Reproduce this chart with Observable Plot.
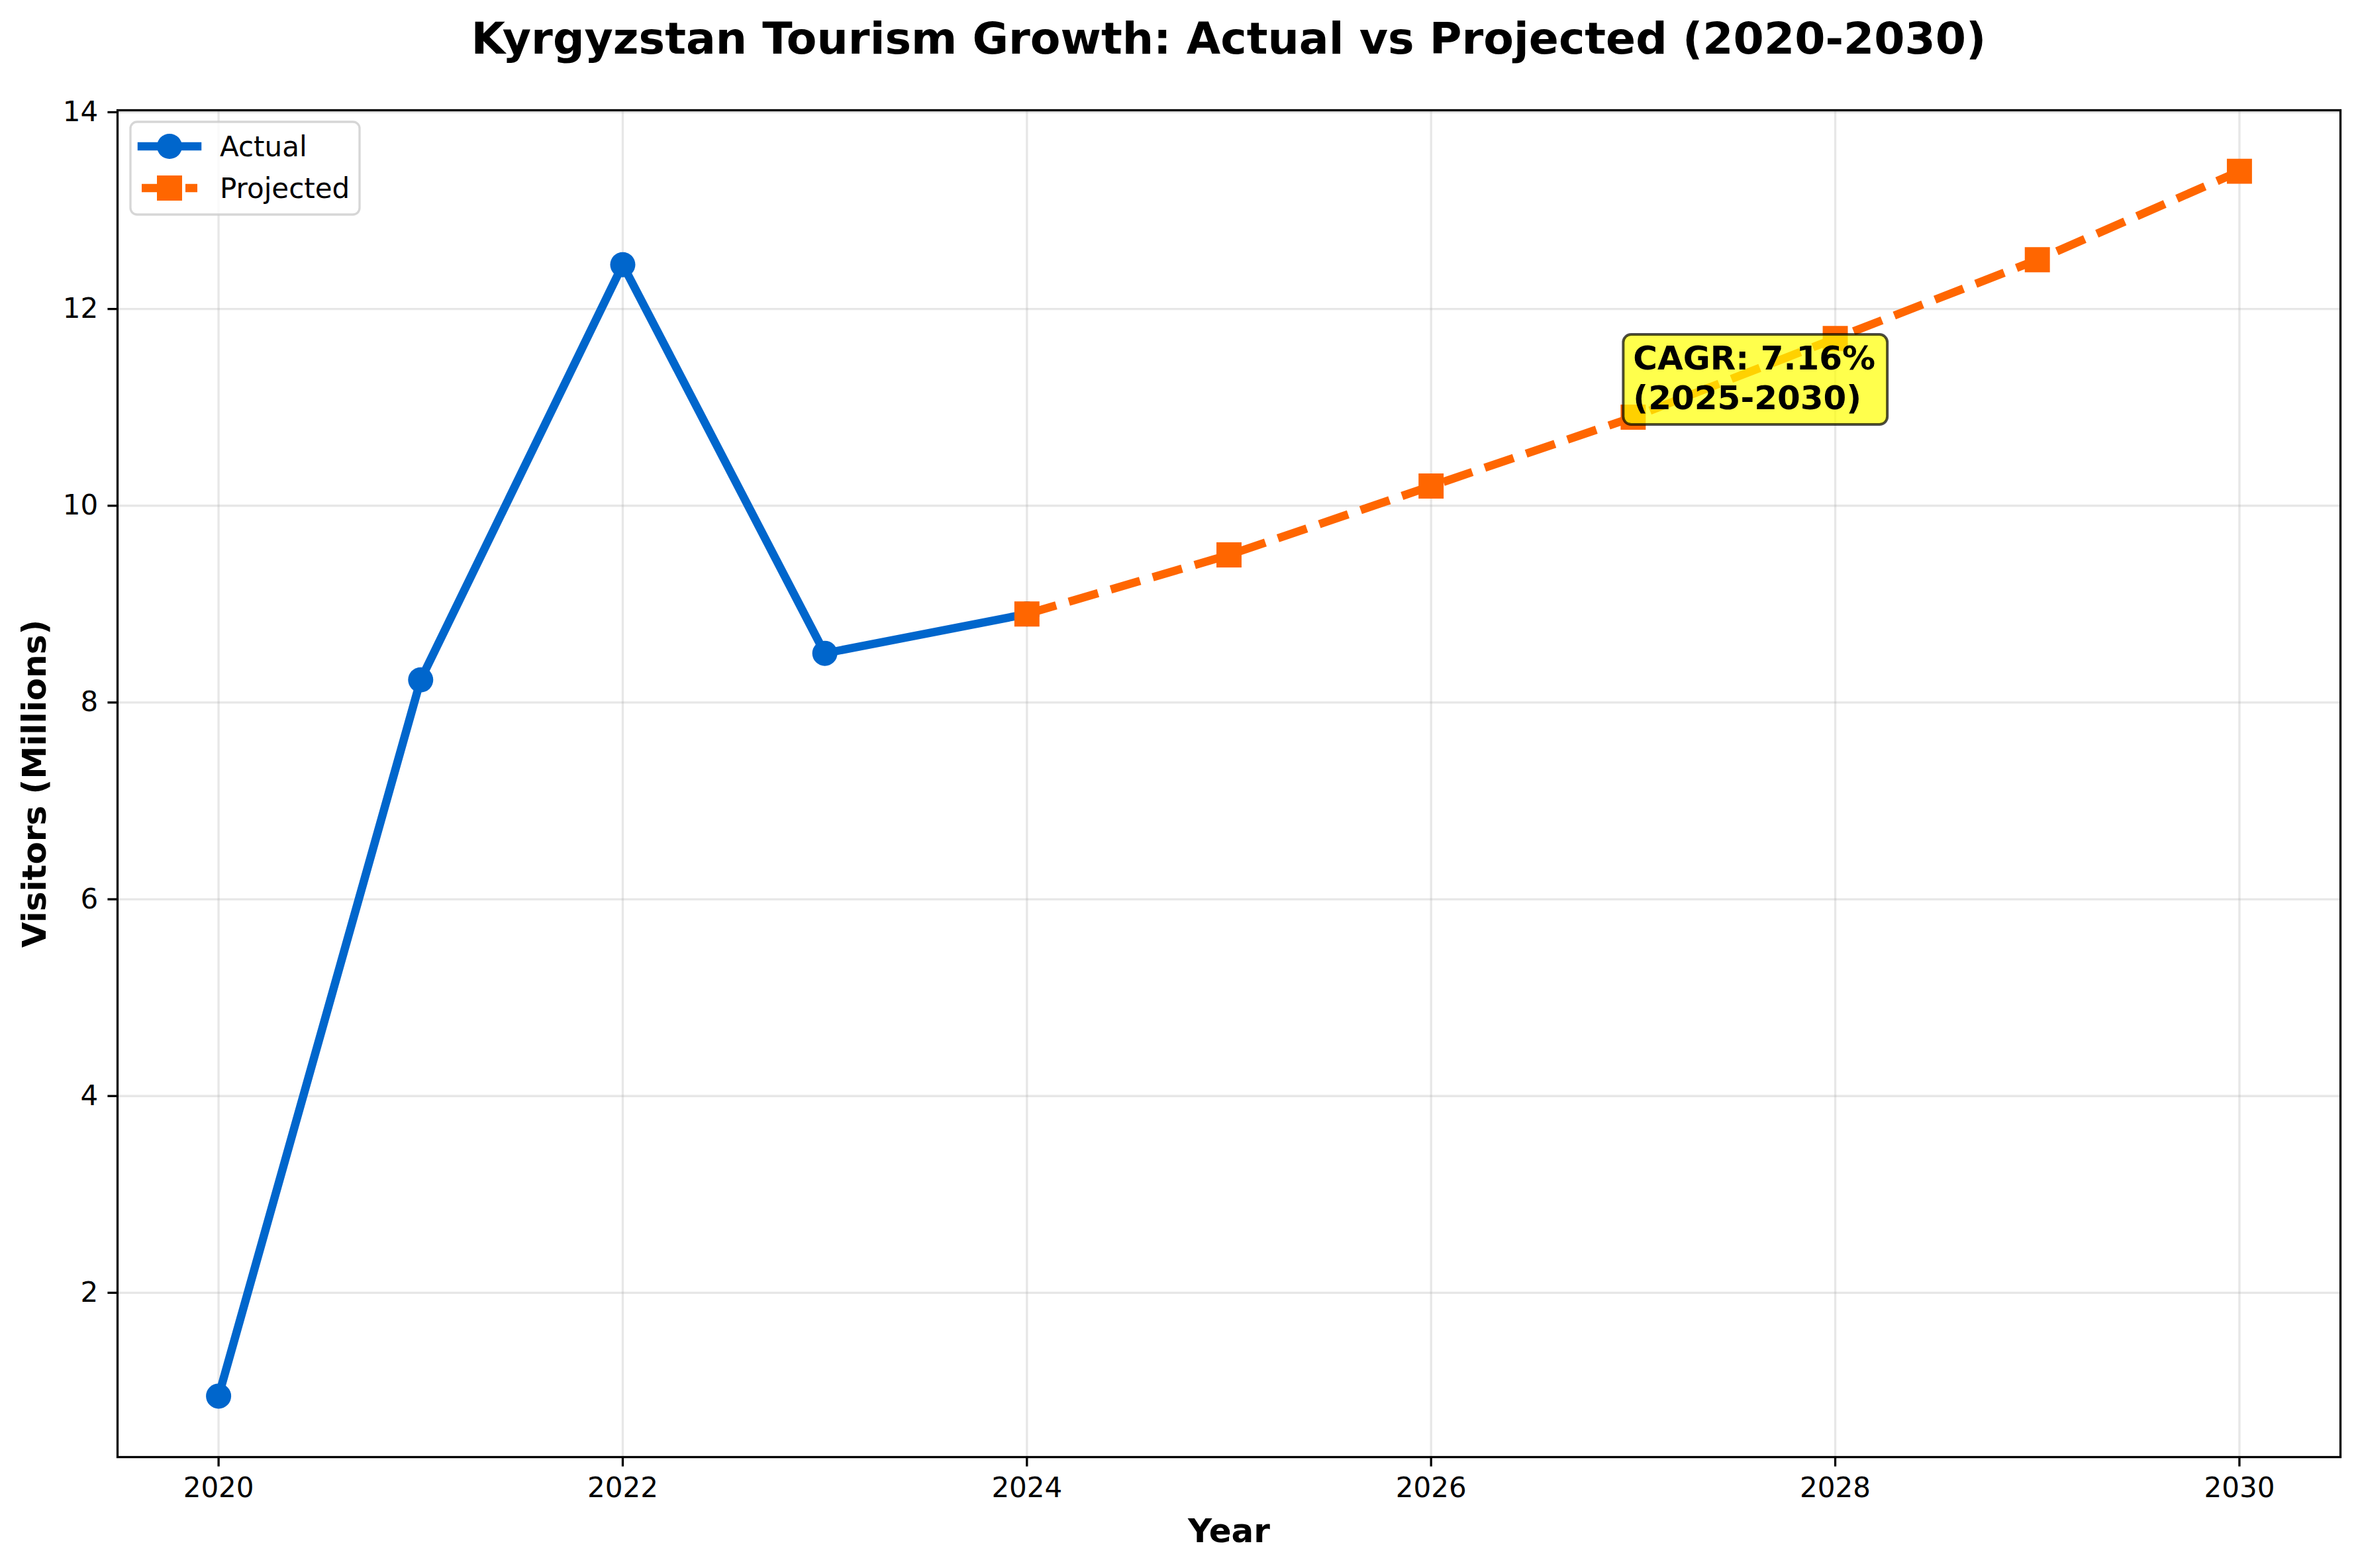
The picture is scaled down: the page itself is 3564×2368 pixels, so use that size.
<!DOCTYPE html>
<html>
<head>
<meta charset="utf-8">
<script src="https://cdn.jsdelivr.net/npm/d3@7"></script>
<script src="https://cdn.jsdelivr.net/npm/@observablehq/plot@0.6"></script>
<style>
  html, body { margin: 0; padding: 0; background: #fff; }
  body { width: 3564px; height: 2368px; overflow: hidden; font-family: "DejaVu Sans", sans-serif; }
  #title {
    position: relative; left: 177px; width: 3357px; height: 120px; box-sizing: border-box;
    padding-top: 25px; text-align: center; font-size: 66.5px; line-height: 67px;
    font-weight: bold; color: #000; white-space: nowrap;
  }
  #chart svg { display: block; }
</style>
</head>
<body>
<div id="title">Kyrgyzstan Tourism Growth: Actual vs Projected (2020-2030)</div>
<div id="chart"></div>
<script>
// Visitors (millions) by year
const actualYears = [2020, 2021, 2022, 2023, 2024];
const actualVisitors = [0.95, 8.23, 12.45, 8.5, 8.9];
const projectedYears = [2024, 2025, 2026, 2027, 2028, 2029, 2030];
const projectedVisitors = [8.9, 9.5, 10.2, 10.9, 11.7, 12.5, 13.4];

// Axis ticks
const xTicks = [2020, 2022, 2024, 2026, 2028, 2030];
const yTicks = [2, 4, 6, 8, 10, 12, 14];

// Growth-rate note, anchored at a point on the projection
const noteYear = [2027];
const noteVisitors = [10.9];
const noteText = ["CAGR: 7.16%\n(2025-2030)"];

const seriesNames = ["Actual", "Projected"];
const BLUE = "#0066CC";
const ORANGE = "#FF6600";

const actual = actualYears.map((year, i) => ({year, visitors: actualVisitors[i]}));
const projected = projectedYears.map((year, i) => ({year, visitors: projectedVisitors[i]}));
const notes = noteYear.map((year, i) => ({year, visitors: noteVisitors[i], text: noteText[i]}));

const TITLE_H = 120;
const gridStyle = {stroke: "#b0b0b0", strokeOpacity: 0.3, strokeWidth: 3.3};

const chart = Plot.plot({
  width: 3564,
  height: 2368 - TITLE_H,
  marginLeft: 177,
  marginRight: 30,
  marginTop: 166 - TITLE_H,
  marginBottom: 168,
  style: {fontFamily: "DejaVu Sans", fontSize: "42px", color: "#000", background: "#fff", overflow: "visible"},
  x: {domain: [2019.5, 2030.5]},
  y: {domain: [0.33, 14.02]},
  marks: [
    Plot.gridX(xTicks, gridStyle),
    Plot.gridY(yTicks, gridStyle),
    Plot.axisX(xTicks, {tickSize: 14.6, tickPadding: 16, strokeWidth: 3.3, tickFormat: (d) => String(d), label: null, fontSize: 42}),
    Plot.axisY(yTicks, {tickSize: 14.6, tickPadding: 14.6, strokeWidth: 3.3, tickFormat: (d) => String(d), label: null, fontSize: 42}),
    Plot.line(actual, {x: "year", y: "visitors", stroke: BLUE, strokeWidth: 12.5, strokeLinejoin: "round", strokeLinecap: "square"}),
    Plot.dot(actual, {x: "year", y: "visitors", r: 19, fill: BLUE, symbol: "circle"}),
    Plot.line(projected, {x: "year", y: "visitors", stroke: ORANGE, strokeWidth: 12.5, strokeDasharray: "46,20", strokeLinejoin: "round", strokeLinecap: "butt"}),
    Plot.dot(projected, {x: "year", y: "visitors", r: 21.4, fill: ORANGE, symbol: "square"}),
    Plot.frame({stroke: "#000", strokeWidth: 3.3}),
    Plot.text(["Year"], {frameAnchor: "bottom", textAnchor: "middle", lineAnchor: "middle", dy: 112, fontSize: 50, fontWeight: "bold", fill: "#000"}),
    Plot.text(["Visitors (Millions)"], {frameAnchor: "left", textAnchor: "middle", lineAnchor: "middle", rotate: -90, dx: -125, fontSize: 50, fontWeight: "bold", fill: "#000"}),
    Plot.text(notes, {x: "year", y: "visitors", text: "text", textAnchor: "start", lineAnchor: "bottom", lineHeight: 1.2, dy: -12, fontSize: 50, fontWeight: "bold", fill: "#000", className: "cagr-note"})
  ]
});

document.getElementById("chart").appendChild(chart);

// Rounded, semi-transparent box behind the growth-rate note
const svg = d3.select(chart);
const noteGroup = chart.querySelector("g.cagr-note") || [...chart.querySelectorAll('g[aria-label="text"]')].pop();
if (noteGroup) {
  const sr = chart.getBoundingClientRect();
  const tr = noteGroup.getBoundingClientRect();
  const padL = 15, padR = 18, padTop = 7, padBottom = 11;
  const box = document.createElementNS("http://www.w3.org/2000/svg", "rect");
  box.setAttribute("x", tr.left - sr.left - padL);
  box.setAttribute("y", tr.top - sr.top - padTop);
  box.setAttribute("width", tr.width + padL + padR);
  box.setAttribute("height", tr.height + padTop + padBottom);
  box.setAttribute("rx", 12);
  box.setAttribute("fill", "#ffff00");
  box.setAttribute("fill-opacity", 0.7);
  box.setAttribute("stroke", "#000");
  box.setAttribute("stroke-opacity", 0.7);
  box.setAttribute("stroke-width", 4);
  noteGroup.parentNode.insertBefore(box, noteGroup);
}

// Legend (upper left, inside the frame)
const lg = svg.append("g").attr("font-family", "DejaVu Sans").attr("font-size", 42).attr("text-anchor", "start");
const oy = -TITLE_H;
lg.append("rect")
  .attr("x", 197).attr("y", 184 + oy).attr("width", 346).attr("height", 140).attr("rx", 10)
  .attr("fill", "#fff").attr("fill-opacity", 0.8)
  .attr("stroke", "#cccccc").attr("stroke-opacity", 0.8).attr("stroke-width", 3.3);
const rows = [
  {name: seriesNames[0], color: BLUE, cy: 221, dash: null, cap: "square", symbol: "circle"},
  {name: seriesNames[1], color: ORANGE, cy: 284, dash: "46,20", cap: "butt", symbol: "square"}
];
for (const r of rows) {
  lg.append("line")
    .attr("x1", 214).attr("x2", 298).attr("y1", r.cy + oy).attr("y2", r.cy + oy)
    .attr("stroke", r.color).attr("stroke-width", 12.5).attr("stroke-linecap", r.cap)
    .attr("stroke-dasharray", r.dash);
  if (r.symbol === "circle") {
    lg.append("circle").attr("cx", 256).attr("cy", r.cy + oy).attr("r", 19).attr("fill", r.color);
  } else {
    lg.append("rect").attr("x", 237).attr("y", r.cy + oy - 19).attr("width", 38).attr("height", 38).attr("fill", r.color);
  }
  lg.append("text").attr("x", 332).attr("y", r.cy + oy + 15).attr("text-anchor", "start").attr("fill", "#000").text(r.name);
}
</script>
</body>
</html>
